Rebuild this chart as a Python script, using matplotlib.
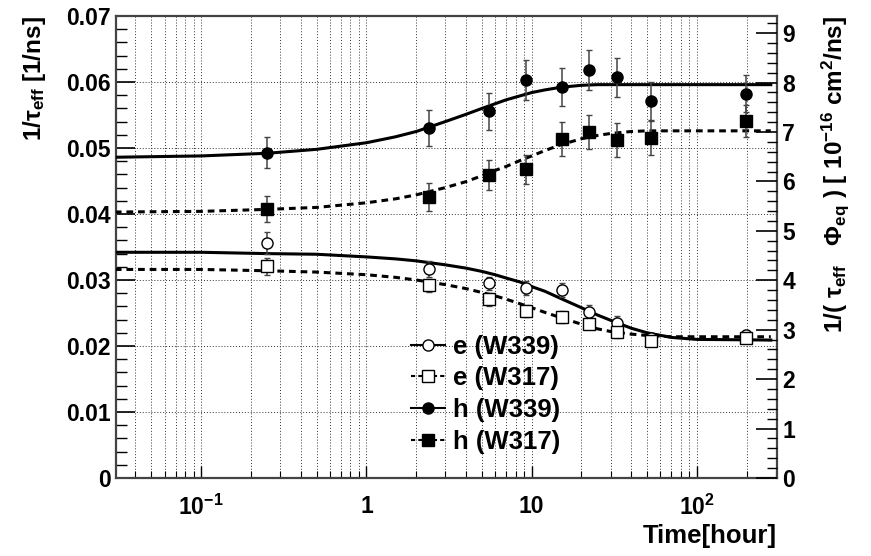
import numpy as np
import matplotlib
matplotlib.use("Agg")
import matplotlib.pyplot as plt
from matplotlib.ticker import MultipleLocator, LogLocator, FixedLocator, NullFormatter

plt.rcParams['font.family'] = ['Liberation Sans', 'DejaVu Sans']
plt.rcParams['font.weight'] = 'bold'
plt.rcParams['axes.labelweight'] = 'bold'
plt.rcParams['mathtext.fontset'] = 'custom'
plt.rcParams['mathtext.rm'] = 'Liberation Sans:bold'
plt.rcParams['mathtext.it'] = 'Liberation Sans:italic:bold'
plt.rcParams['mathtext.bf'] = 'Liberation Sans:bold'

# measured points (time in hours)
t_data = [0.25, 2.4, 5.5, 9.3, 15.2, 22.2, 33.0, 53.0, 198.0]

e339 = [0.0356, 0.0317, 0.0295, 0.0288, 0.0285, 0.0252, 0.0235, 0.0212, 0.0216]
e339_err = [0.0017, 0.0012, 0.0010, 0.0010, 0.0010, 0.0010, 0.0010, 0.0008, 0.0008]
e317 = [0.0321, 0.0292, 0.0271, 0.0253, 0.0244, 0.0234, 0.0221, 0.0208, 0.0212]
e317_err = [0.0013, 0.0010, 0.0010, 0.0009, 0.0009, 0.0009, 0.0009, 0.0008, 0.0008]
h339 = [0.0493, 0.0530, 0.0556, 0.0603, 0.0592, 0.0618, 0.0607, 0.0571, 0.0582]
h339_err = [0.0024, 0.0027, 0.0028, 0.0031, 0.0029, 0.0030, 0.0030, 0.0029, 0.0028]
h317 = [0.0408, 0.0426, 0.0459, 0.0468, 0.0514, 0.0524, 0.0512, 0.0515, 0.0541]
h317_err = [0.0020, 0.0021, 0.0023, 0.0022, 0.0026, 0.0026, 0.0026, 0.0026, 0.0024]

# fit curves
t_fit = [0.03, 0.1, 0.25, 0.5, 1, 1.5, 2, 3, 4, 5, 6, 7, 8.5, 10, 12, 15, 20, 25, 30, 40, 50, 70, 100, 280]
fit_e339 = [0.0342, 0.0342, 0.0340, 0.0339, 0.0335, 0.0332, 0.0329, 0.0323, 0.0318, 0.0313, 0.0308, 0.0303,
            0.0297, 0.0290, 0.0283, 0.0272, 0.0258, 0.0247, 0.0239, 0.0227, 0.0220, 0.0213, 0.0210, 0.0209]
fit_e317 = [0.0316, 0.0316, 0.0314, 0.0312, 0.0308, 0.0304, 0.0300, 0.0293, 0.0287, 0.0281, 0.0276, 0.0271,
            0.0264, 0.0258, 0.0251, 0.0243, 0.0233, 0.0226, 0.0222, 0.0218, 0.0216, 0.0214, 0.0214, 0.0214]
fit_h339 = [0.0486, 0.0488, 0.0492, 0.0498, 0.0508, 0.0517, 0.0525, 0.0540, 0.0551, 0.0560, 0.0567, 0.0573,
            0.0579, 0.0584, 0.0588, 0.0592, 0.0595, 0.0596, 0.0596, 0.0596, 0.0596, 0.0596, 0.0596, 0.0596]
fit_h317 = [0.0403, 0.0404, 0.0407, 0.0410, 0.0417, 0.0423, 0.0429, 0.0440, 0.0449, 0.0458, 0.0466, 0.0472,
            0.0481, 0.0488, 0.0496, 0.0505, 0.0514, 0.0519, 0.0522, 0.0525, 0.0526, 0.0526, 0.0526, 0.0526]

labels = ['e (W339)', 'e (W317)', 'h (W339)', 'h (W317)']
y_ticks = [0, 0.01, 0.02, 0.03, 0.04, 0.05, 0.06, 0.07]
y_ticklabels = ['0', '0.01', '0.02', '0.03', '0.04', '0.05', '0.06', '0.07']
x_ticks = [0.1, 1, 10, 100]
x_ticklabels = [r'$\mathregular{10^{-1}}$', '1', '10', r'$\mathregular{10^{2}}$']

fig = plt.figure(figsize=(8.71, 5.56), dpi=100)
ax = fig.add_axes([0.1332, 0.1403, 0.7588, 0.8309])

dash = (0, (2.2, 1.6))
ax.plot(t_fit, fit_e339, color='k', lw=2.2, zorder=3)
ax.plot(t_fit, fit_e317, color='k', lw=2.2, ls=dash, zorder=3)
ax.plot(t_fit, fit_h339, color='k', lw=2.2, zorder=3)
ax.plot(t_fit, fit_h317, color='k', lw=2.2, ls=dash, zorder=3)

ebkw = dict(ls='none', ecolor='#444444', elinewidth=1.1, capsize=2.5, capthick=1.0, zorder=4)
ax.errorbar(t_data, e339, yerr=e339_err, marker='o', ms=8, mfc='white', mec='k', mew=1.0, **ebkw)
ax.errorbar(t_data, e317, yerr=e317_err, marker='s', ms=8, mfc='white', mec='k', mew=1.0, **ebkw)
ax.errorbar(t_data, h339, yerr=h339_err, marker='o', ms=8, mfc='k', mec='k', **ebkw)
ax.errorbar(t_data, h317, yerr=h317_err, marker='s', ms=8, mfc='k', mec='k', **ebkw)

ax.set_xscale('log')
ax.set_xlim(0.0305, 305)
ax.set_ylim(0, 0.07)

ax.xaxis.set_major_locator(FixedLocator(x_ticks))
ax.xaxis.set_minor_locator(LogLocator(base=10, subs=np.arange(2, 10)))
ax.xaxis.set_minor_formatter(NullFormatter())
ax.set_xticklabels(x_ticklabels)
ax.yaxis.set_major_locator(FixedLocator(y_ticks))
ax.yaxis.set_minor_locator(MultipleLocator(0.002))
ax.set_yticklabels(y_ticklabels)

ax.tick_params(axis='both', which='both', direction='in', labelsize=16.5, top=False, right=False)
ax.tick_params(axis='y', which='major', length=14, width=1.2, pad=4)
ax.tick_params(axis='y', which='minor', length=8, width=1.0)
ax.tick_params(axis='x', which='major', length=9, width=1.0, pad=12)
ax.tick_params(axis='x', which='minor', length=5, width=0.8)

ax.grid(True, which='both', axis='x', ls=(0, (1, 2)), color='#333333', lw=0.7)
ax.grid(True, which='major', axis='y', ls=(0, (1, 2)), color='#333333', lw=0.7)
ax.set_axisbelow(True)
for s in ax.spines.values():
    s.set_linewidth(1.6)
    s.set_color('#444444')

ax.set_ylabel(r'1/$\mathregular{\tau_{eff}}$ [1/ns]', fontsize=17.5, fontweight='bold', loc='top', labelpad=13)
ax.set_xlabel('Time[hour]', fontsize=18.5, fontweight='bold', loc='right', labelpad=3)

ax2 = ax.twinx()
ax2.set_ylim(0, 9.346)
ax2.yaxis.set_major_locator(MultipleLocator(1))
ax2.yaxis.set_minor_locator(MultipleLocator(0.2))
ax2.tick_params(axis='y', which='both', direction='in', labelsize=16.5)
ax2.tick_params(axis='y', which='major', length=15, width=1.2, pad=4)
ax2.tick_params(axis='y', which='minor', length=7, width=1.0)
for s in ax2.spines.values():
    s.set_visible(False)
ax2.set_ylabel(r'1/( $\mathregular{\tau_{eff}}$   $\mathregular{\Phi_{eq}}$ ) [ $\mathregular{10^{-16}}$ cm$\mathregular{^{2}}$/ns]',
               fontsize=17.5, fontweight='bold', loc='top', labelpad=17)

h1, = ax.plot([], [], color='k', lw=1.5, marker='o', ms=8, mfc='white', mec='k')
h2, = ax.plot([], [], color='k', lw=1.5, ls=(0, (2, 1.5)), marker='s', ms=8, mfc='white', mec='k')
h3, = ax.plot([], [], color='k', lw=1.5, marker='o', ms=8, mfc='k')
h4, = ax.plot([], [], color='k', lw=1.5, ls=(0, (2, 1.5)), marker='s', ms=8, mfc='k')
ax.legend([h1, h2, h3, h4], labels, loc='upper left', bbox_to_anchor=(0.447, 0.31),
          frameon=False, fontsize=18.5, handlelength=1.3, handletextpad=0.3,
          labelspacing=0.3, borderpad=0, borderaxespad=0)

fig.savefig('out.png', dpi=100)
